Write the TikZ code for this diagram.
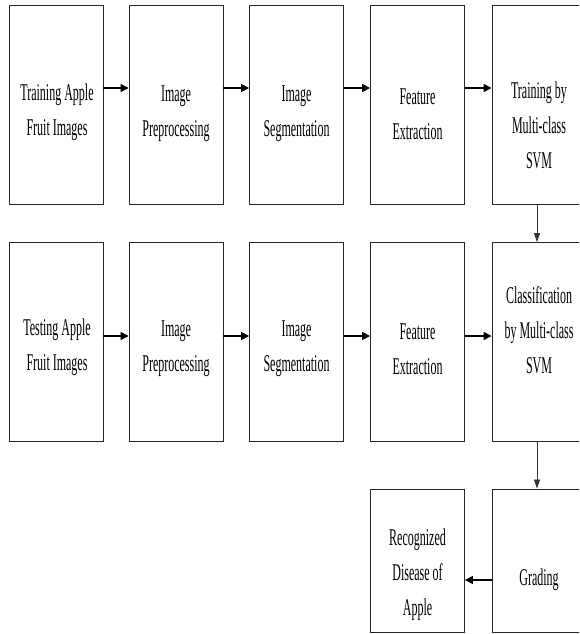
\documentclass[tikz,border=0pt]{standalone}
\usepackage{fontspec}
\newfontfamily\condfont[FakeStretch=0.5]{Liberation Serif}
\usetikzlibrary{arrows.meta}
\begin{document}
\begin{tikzpicture}[x=1pt,y=-1pt,
  box/.style={draw=black!85, line width=0.9pt, minimum width=94pt, inner sep=0pt},
  tallbox/.style={box, minimum height=199pt},
  shortbox/.style={box, minimum height=143pt},
  lbl/.style={font=\condfont\fontsize{24}{35}\selectfont, align=center, inner sep=0pt},
  harrow/.style={line width=1.6pt, -{Triangle[length=8pt,width=8pt]}},
  varrow/.style={line width=0.8pt, black!80, -{Triangle[length=9pt,width=6pt]}}]
\useasboundingbox (0,0) rectangle (579,634);
\clip (0,0) rectangle (579,634);
% row 1
\node[tallbox] (a1) at (56,104.5) {};
\node[tallbox] (a2) at (176,104.5) {};
\node[tallbox] (a3) at (296.5,104.5) {};
\node[tallbox] (a4) at (417.5,104.5) {};
\node[tallbox] (a5) at (539,104.5) {};
\node[lbl] (ta1) at (57,112) {Training Apple\\Fruit Images};
\node[lbl] (ta2) at (176,114) {Image\\Preprocessing};
\node[lbl] (ta3) at (296.5,114) {Image\\Segmentation};
\node[lbl] (ta4) at (417.5,114) {Feature\\Extraction};
\node[lbl] (ta5) at (539,125) {Training by\\Multi-class\\SVM};
% row 2
\node[tallbox] (b1) at (56,342) {};
\node[tallbox] (b2) at (176,342) {};
\node[tallbox] (b3) at (296.5,342) {};
\node[tallbox] (b4) at (417.5,342) {};
\node[tallbox] (b5) at (539,342) {};
\node[lbl] (tb1) at (57,347) {Testing Apple\\Fruit Images};
\node[lbl] (tb2) at (176,349) {Image\\Preprocessing};
\node[lbl] (tb3) at (296.5,349) {Image\\Segmentation};
\node[lbl] (tb4) at (417.5,349) {Feature\\Extraction};
\node[lbl] (tb5) at (539,330) {Classification\\by Multi-class\\SVM};
% row 3
\node[shortbox] (c4) at (417.5,560.5) {};
\node[shortbox] (c5) at (539,560.5) {};
\node[lbl] (tc4) at (417.5,575) {Recognized\\Disease of\\Apple};
\node[lbl] (tc5) at (539,580) {Grading};
% arrows
\foreach \p/\q in {a1/a2,a2/a3,a3/a4,a4/a5} {
  \draw[harrow] (\p.east |- 0,88) -- (\q.west |- 0,88);
}
\foreach \p/\q in {b1/b2,b2/b3,b3/b4,b4/b5} {
  \draw[harrow] (\p.east |- 0,336) -- (\q.west |- 0,336);
}
\draw[varrow] (a5.south -| 537,0) -- (b5.north -| 537,0);
\draw[varrow] (b5.south -| 537,0) -- (c5.north -| 537,0);
\draw[harrow] (c5.west |- 0,580) -- (c4.east |- 0,580);
\end{tikzpicture}
\end{document}
